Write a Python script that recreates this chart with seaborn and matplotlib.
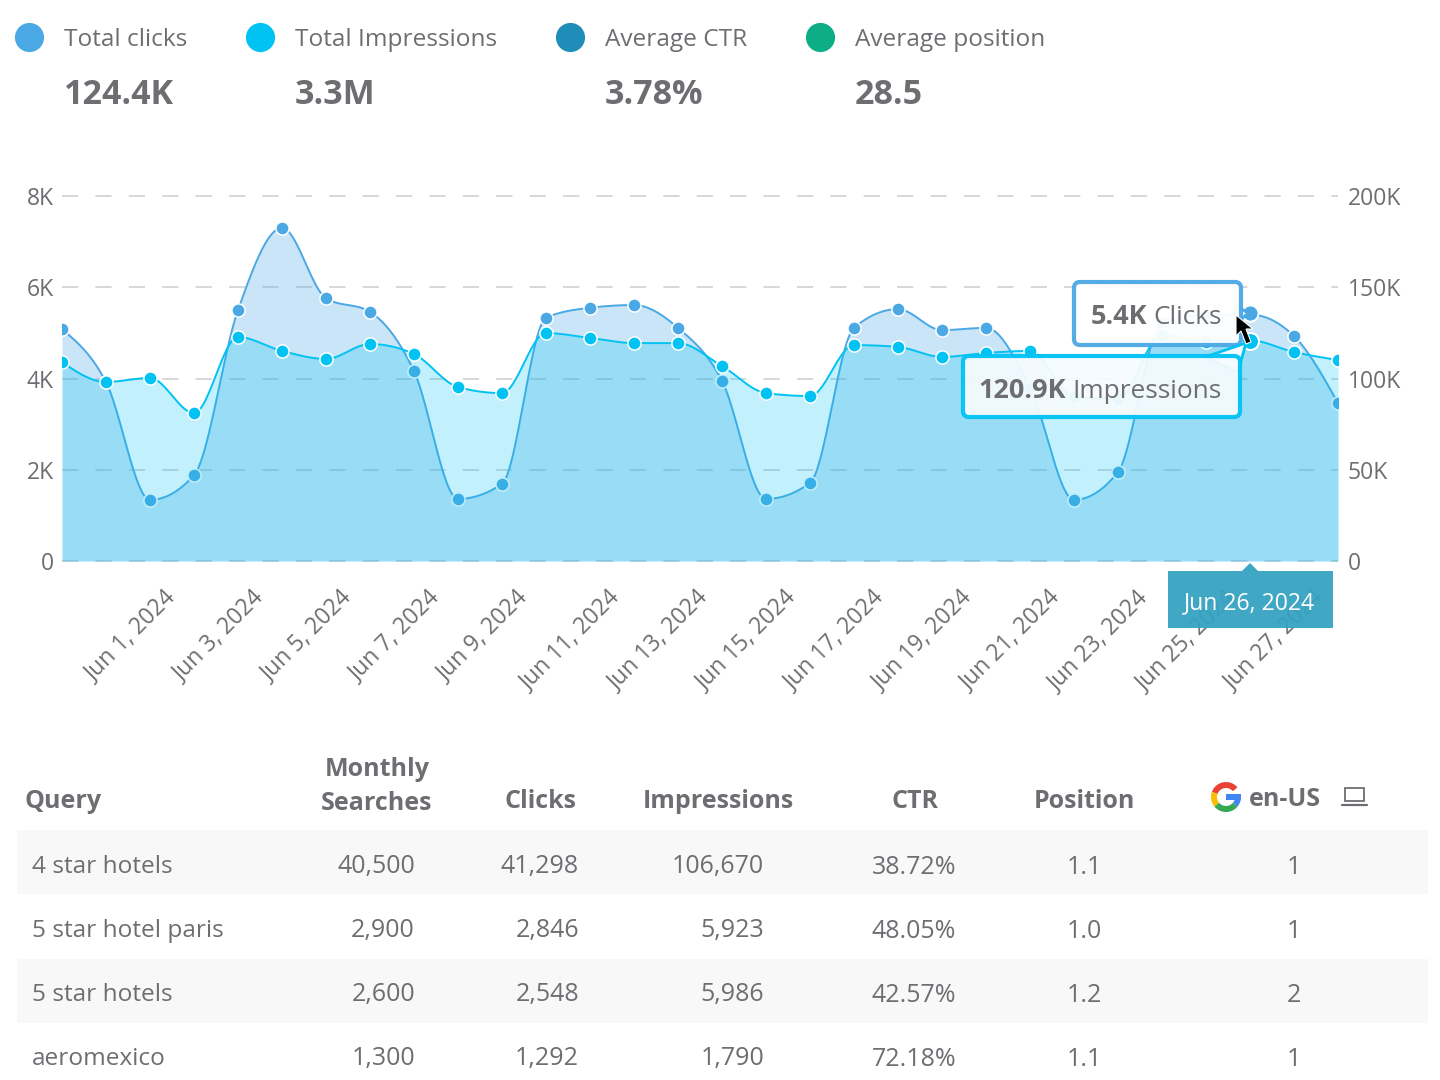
import numpy as np
import pandas as pd
import matplotlib
matplotlib.use("Agg")
import matplotlib.pyplot as plt
from matplotlib.patches import FancyBboxPatch, Rectangle, Polygon, Wedge
from matplotlib.transforms import ScaledTranslation
import seaborn as sns

# chart data
clicks = [5080, 3920, 1340, 1880, 5500, 7300, 5760, 5460, 4160, 1360,
          1690, 5330, 5550, 5610, 5110, 3950, 1360, 1710, 5110, 5520,
          5060, 5110, 3800, 1340, 1950, 5220, 5390, 5400, 4930, 3460]
impressions = [109000, 98100, 100300, 81100, 122700, 115100, 110700, 118900, 113400, 95300,
               92000, 124900, 122200, 119400, 119400, 106800, 92000, 90400, 118300, 117300,
               111800, 114000, 115100, 89900, 88800, 124000, 120000, 120900, 114500, 110100]
dates = pd.date_range("2024-05-30", periods=30)

left_ticks = [0, 2000, 4000, 6000, 8000]
left_labels = ["0", "2K", "4K", "6K", "8K"]
right_ticks = [0, 50000, 100000, 150000, 200000]
right_labels = ["0", "50K", "100K", "150K", "200K"]

# summary row
summary_names = ["Total clicks", "Total Impressions", "Average CTR", "Average position"]
summary_values = ["124.4K", "3.3M", "3.78%", "28.5"]

# table
queries = ["4 star hotels", "5 star hotel paris", "5 star hotels", "aeromexico"]
monthly = ["40,500", "2,900", "2,600", "1,300"]
table_clicks = ["41,298", "2,846", "2,548", "1,292"]
table_impr = ["106,670", "5,923", "5,986", "1,790"]
table_ctr = ["38.72%", "48.05%", "42.57%", "72.18%"]
table_pos = ["1.1", "1.0", "1.2", "1.1"]
table_rank = ["1", "1", "2", "1"]

CLICK_C = "#4AA8E4"
IMPR_C = "#00C2F3"
GREY = "#6D6E72"
W, H = 1440, 1080

sns.set_theme(style="white")
plt.rcParams["font.family"] = ["Open Sans", "DejaVu Sans"]


def smooth(dts, vals, n=24):
    # monotone curve through the points, just for the drawing
    y = np.asarray(vals, dtype=float)
    s = np.diff(y)
    m = np.zeros_like(y)
    m[1:-1] = (np.sign(s[:-1]) + np.sign(s[1:])) * np.minimum.reduce(
        [np.abs(s[:-1]), np.abs(s[1:]), 0.25 * np.abs(s[:-1] + s[1:])])
    m[0] = (3 * s[0] - m[1]) / 2
    m[-1] = (3 * s[-1] - m[-2]) / 2
    t = np.linspace(0, 1, n, endpoint=False)
    out_x, out_y = [], []
    for i in range(len(y) - 1):
        h00 = 2 * t**3 - 3 * t**2 + 1
        h10 = t**3 - 2 * t**2 + t
        h01 = -2 * t**3 + 3 * t**2
        h11 = t**3 - t**2
        out_y.append(h00 * y[i] + h10 * m[i] + h01 * y[i + 1] + h11 * m[i + 1])
        out_x.append(dts[i] + pd.to_timedelta(t, unit="D"))
    xs = np.concatenate([np.asarray(a) for a in out_x] + [np.asarray([dts[-1]], dtype="datetime64[ns]")])
    ys = np.concatenate(out_y + [y[-1:]])
    return pd.DataFrame({"x": xs, "y": ys})


fig = plt.figure(figsize=(W / 100, H / 100), dpi=100, facecolor="white")
ax = fig.add_axes([62 / W, (H - 561) / H, (1338 - 62) / W, 365 / H])
ax2 = ax.twinx()

cl = smooth(dates, clicks)
im = smooth(dates, impressions)

ax.set_axisbelow(True)
ax.fill_between(cl["x"], cl["y"], 0, color=CLICK_C, alpha=0.29, linewidth=0, zorder=1)
ax2.fill_between(im["x"], im["y"], 0, color=IMPR_C, alpha=0.24, linewidth=0, zorder=1)

sns.lineplot(data=cl, x="x", y="y", ax=ax, color=CLICK_C, linewidth=1.4, zorder=3, estimator=None, sort=False)
sns.scatterplot(x=dates, y=clicks, ax=ax, color=CLICK_C, s=90, edgecolor="white", linewidth=1.1, zorder=4)
sns.lineplot(data=im, x="x", y="y", ax=ax2, color=IMPR_C, linewidth=1.4, zorder=3, estimator=None, sort=False)
sns.scatterplot(x=dates, y=impressions, ax=ax2, color=IMPR_C, s=90, edgecolor="white", linewidth=1.1, zorder=4)

ax.set_xlim(dates[0], dates[-1])
ax.set_ylim(0, 8000)
ax2.set_ylim(0, 200000)
ax.set_yticks(left_ticks, left_labels)
ax2.set_yticks(right_ticks, right_labels)
ax.set_xlabel("")
ax.set_ylabel("")
ax2.set_ylabel("")
ax2.set_xlabel("")
for s in ax.spines.values():
    s.set_visible(False)
for s in ax2.spines.values():
    s.set_visible(False)

ax.yaxis.grid(True, color="#9a9a9a", alpha=0.42, linewidth=1.3, linestyle=(0, (9, 9.5)), zorder=2)
for g in ax.get_ygridlines():
    g.set_clip_on(False)
ax.set_zorder(1)
ax2.set_zorder(2)
ax2.patch.set_visible(False)
ax.tick_params(axis="y", length=0, pad=6, labelsize=16.5, labelcolor=GREY)
ax2.tick_params(axis="y", length=0, pad=7, labelsize=16.5, labelcolor=GREY)

# tick labels ends sit a bit right of the tick, longer labels a bit more
ax.set_xticks(dates[2::2])
ax.set_xticklabels([f"{d:%b} {d.day}, {d.year}" for d in dates[2::2]], rotation=45, ha="right",
                   va="top", rotation_mode="anchor", fontsize=16.5, color=GREY)
ax.tick_params(axis="x", length=0, pad=18)
for lab in ax.get_xticklabels():
    dx = 0.185 if len(lab.get_text()) > 11 else 0.14
    lab.set_transform(lab.get_transform() + ScaledTranslation(dx, 0, fig.dpi_scale_trans))

# pixel overlay for everything that is not plotted data
ov = fig.add_axes([0, 0, 1, 1], zorder=5)
ov.set_xlim(0, W)
ov.set_ylim(H, 0)
ov.axis("off")
ov.patch.set_visible(False)

# summary row
dots = [CLICK_C, IMPR_C, "#1F8DB8", "#0DAE85"]
dot_x = [29, 260, 570, 820]
name_x = [64, 295, 605, 855]
for c, dx, nx, name, val in zip(dots, dot_x, name_x, summary_names, summary_values):
    ov.scatter([dx - 0.5], [37], s=440, color=c, linewidth=0)
    ov.text(nx, 40, name, fontsize=17.6, color=GREY, va="center", ha="left")
    ov.text(nx, 95, val, fontsize=24.5, color=GREY, va="center", ha="left", fontweight="bold")

# highlighted day
sel_x = 1250
ov.scatter([sel_x], [313], s=130, color=CLICK_C, edgecolor="white", linewidth=1.2, zorder=6)
ov.scatter([sel_x], [341], s=150, color=IMPR_C, edgecolor="white", linewidth=1.5, zorder=6)

# tooltips
ov.add_patch(Polygon([[1235, 305], [1248, 313], [1235, 325]], closed=True, fc="white", ec=CLICK_C, lw=2, zorder=6))
ov.add_patch(FancyBboxPatch((1074, 282), 167, 63, boxstyle="round,pad=0,rounding_size=6",
                            fc="white", ec=CLICK_C, lw=3, alpha=0.95, zorder=7))
ov.add_patch(Polygon([[1205, 357], [1246, 343], [1238, 372]], closed=True, fc="#F5FBFE", ec=IMPR_C, lw=2, zorder=7))
ov.add_patch(FancyBboxPatch((963, 356), 277, 61, boxstyle="round,pad=0,rounding_size=6",
                            fc="#F5FBFE", ec=IMPR_C, lw=3, alpha=0.95, zorder=7))
ov.text(1222, 317, "Clicks", fontsize=18.8, color=GREY, ha="right", va="center", zorder=8)
ov.text(1147, 317, "5.4K", fontsize=19.5, color=GREY, ha="right", va="center", fontweight="bold", zorder=8)
ov.text(1222, 391, "Impressions", fontsize=18.9, color=GREY, ha="right", va="center", zorder=8)
ov.text(1066, 391, "120.9K", fontsize=19.5, color=GREY, ha="right", va="center", fontweight="bold", zorder=8)

# cursor
ov.add_patch(Polygon([[1236, 315], [1236, 336], [1241, 331], [1246, 344], [1251, 342], [1246, 329], [1253, 329]],
                     closed=True, fc="black", ec="white", lw=0.8, zorder=9))

# date flag
ov.add_patch(Rectangle((1168, 571), 165, 57, fc="#36A2C2", ec="none", alpha=0.95, zorder=7))
ov.add_patch(Polygon([[1242, 571], [1250, 563], [1258, 571]], closed=True, fc="#3BA5C5", ec="none", zorder=7))
ov.text(1250, 603, "Jun 26, 2024", fontsize=16.6, color="white", ha="center", va="center", zorder=8)

# table bands
row_y = [867, 931, 995, 1059]
ov.add_patch(Rectangle((17, 830), 1411, 64, fc="#F8F8F8", ec="none"))
ov.add_patch(Rectangle((17, 959), 1411, 64, fc="#F8F8F8", ec="none"))

# header
hdr = dict(fontsize=18, color=GREY, fontweight="bold", va="center")
ov.text(25, 801, "Query", ha="left", **hdr)
ov.text(377, 769, "Monthly", ha="center", **hdr)
ov.text(377, 804, "Searches", ha="center", **hdr)
ov.text(540, 801, "Clicks", ha="center", **hdr)
ov.text(718, 801, "Impressions", ha="center", **hdr)
ov.text(915, 801, "CTR", ha="center", **hdr)
ov.text(1084, 801, "Position", ha="center", **hdr)
ov.text(1285, 799, "en-US", ha="center", **hdr)

# google G
gx, gy = 1226, 797
for a, b, c in [(200, 320, "#EA4335"), (140, 200, "#FBBC05"), (40, 140, "#34A853"), (0, 40, "#4285F4")]:
    ov.add_patch(Wedge((gx, gy), 15, a, b, width=6, fc=c, ec="none"))
ov.add_patch(Rectangle((gx, gy - 3), 15, 6, fc="#4285F4", ec="none"))

# laptop icon
ov.add_patch(Rectangle((1345, 788), 19, 13, fc="none", ec=GREY, lw=1.3))
ov.plot([1342, 1367], [805, 805], color=GREY, lw=1.6)

cell = dict(fontsize=18, color=GREY, va="center")
for i, y in enumerate(row_y):
    ov.text(32, y, queries[i], ha="left", fontsize=17.6, color=GREY, va="center")
    ov.text(415, y, monthly[i], ha="right", **cell)
    ov.text(579, y, table_clicks[i], ha="right", **cell)
    ov.text(764, y, table_impr[i], ha="right", **cell)
    ov.text(914, y, table_ctr[i], ha="center", **cell)
    ov.text(1084, y, table_pos[i], ha="center", **cell)
    ov.text(1294, y, table_rank[i], ha="center", **cell)

fig.savefig("out.png", dpi=100)
